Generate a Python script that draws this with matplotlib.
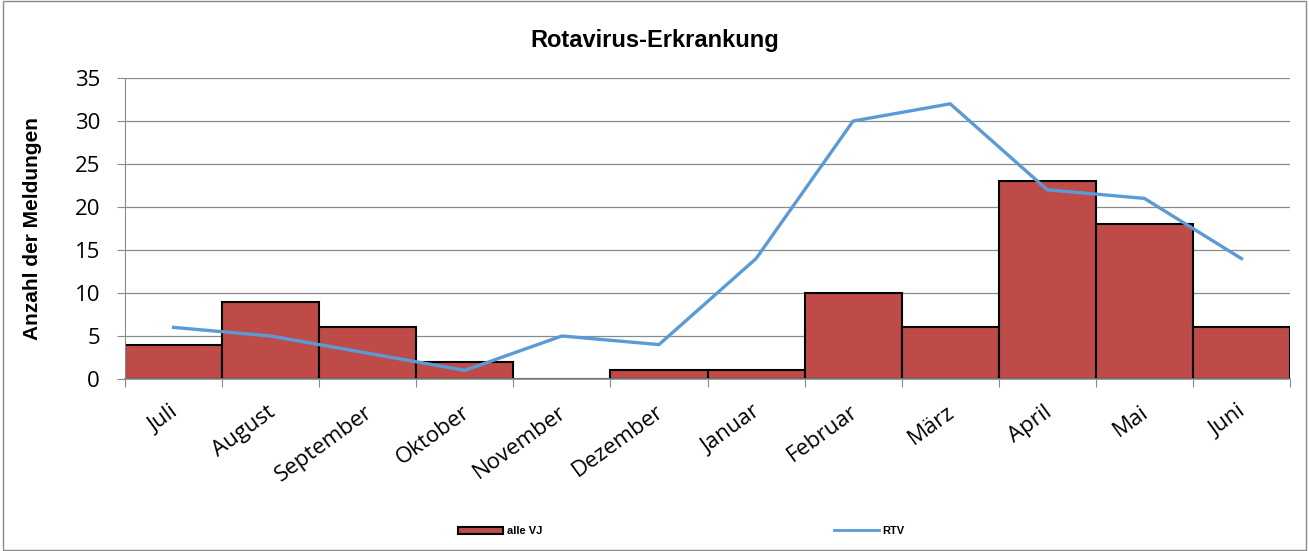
import matplotlib.pyplot as plt
import matplotlib.patches as mpatches
import numpy as np

# ── Data ──────────────────────────────────────────────────────────────────────
months = ["Juli", "August", "September", "Oktober", "November", "Dezember",
          "Januar", "Februar", "März", "April", "Mai", "Juni"]
alle_vj = [4, 9, 6, 2, 0, 1, 1, 10, 6, 23, 18, 6]
rtv = [6, 5, 3, 1, 5, 4, 14, 30, 32, 22, 21, 14]

BAR_COLOR = "#BE4B48"
LINE_COLOR = "#5B9BD5"
GRID = "#8a8a8a"

# ── Plot ──────────────────────────────────────────────────────────────────────
fig = plt.figure(figsize=(13.09, 5.51), dpi=100)
ax = fig.add_axes([0.0955, 0.3122, 0.89, 0.5462])

x = np.arange(len(months))
ax.bar(x, alle_vj, width=1.0, color=BAR_COLOR, edgecolor="black",
       linewidth=1.5, zorder=2, label="alle VJ")
ax.plot(x, rtv, color=LINE_COLOR, linewidth=2.4, zorder=3, label="RTV")

ax.set_xlim(-0.5, len(months) - 0.5)
ax.set_ylim(0, 35)
ax.set_yticks(range(0, 36, 5))
ax.yaxis.grid(True, color=GRID, linewidth=0.9, zorder=0)
ax.set_axisbelow(True)

for s in ["top", "right"]:
    ax.spines[s].set_visible(False)
ax.spines["left"].set_color(GRID)
ax.spines["bottom"].set_color(GRID)
ax.spines["bottom"].set_linewidth(1.2)

ax.set_xticks(np.arange(-0.5, len(months) + 0.5, 1.0))
ax.set_xticklabels([])
ax.tick_params(axis="x", length=6, color=GRID, direction="out")
ax.tick_params(axis="y", length=6, color=GRID, direction="out",
               labelsize=16, pad=12)
for lbl in ax.get_yticklabels():
    lbl.set_fontfamily("Open Sans")

# month labels, rotated with their end at the category centre
for i, m in enumerate(months):
    ax.text(i - 0.04, -2.6, m, rotation=36, ha="right", va="top",
            rotation_mode="anchor", fontsize=16, family="Open Sans")

ax.set_ylabel("Anzahl der Meldungen", fontsize=15, fontweight="bold",
              family="Liberation Sans")
ax.yaxis.set_label_coords(-83 / 1165, 0.5)
fig.suptitle("Rotavirus-Erkrankung", x=0.5, y=0.926, va="center",
             fontsize=17, fontweight="bold", family="Liberation Sans")

# legend entries, far apart as in the original
legend_font = {"family": "Liberation Sans", "weight": "bold", "size": 8}
h_bar = mpatches.Rectangle((0, 0), 1, 1, facecolor=BAR_COLOR,
                           edgecolor="black", linewidth=1.5)
fig.legend([h_bar], ["alle VJ"], loc="center", bbox_to_anchor=(0.382, 0.036),
           frameon=False, handlelength=4.1, handleheight=0.6,
           handletextpad=0.3, prop=legend_font)
h_line = plt.Line2D([0], [0], color=LINE_COLOR, linewidth=2)
fig.legend([h_line], ["RTV"], loc="center", bbox_to_anchor=(0.664, 0.036),
           frameon=False, handlelength=4.1, handletextpad=0.3,
           prop=legend_font)

# outer chart border
fig.patches.append(mpatches.Rectangle((0.002, 0.002), 0.996, 0.996,
                                      transform=fig.transFigure, fill=False,
                                      edgecolor=GRID, linewidth=1))

fig.savefig("out.png", dpi=100)
